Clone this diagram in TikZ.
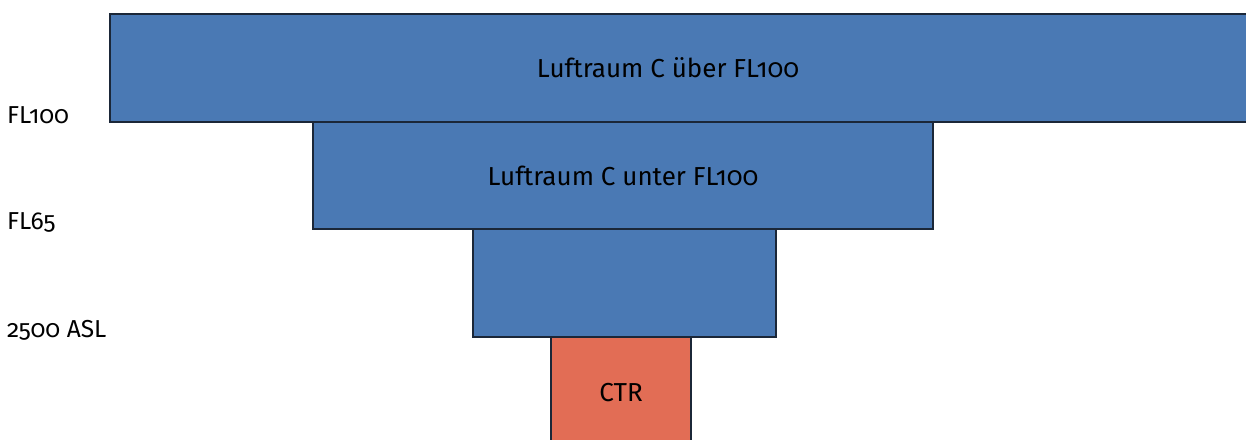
\documentclass[tikz,border=0pt]{standalone}
\usepackage{fontspec}
\setmainfont{Fira Sans}[Numbers=OldStyle]
\definecolor{zoneblue}{HTML}{4A79B4}
\definecolor{ctrred}{HTML}{E26D55}
\definecolor{edge}{HTML}{1B2738}
\begin{document}
\begin{tikzpicture}[x=1pt,y=1pt,
  zone/.style={draw=edge,line width=1.6pt,fill=zoneblue,inner sep=0pt,outer sep=0pt,anchor=north west},
  ctrzone/.style={zone,fill=ctrred},
  lbl/.style={font=\fontsize{26}{30}\selectfont,inner sep=0pt},
  level/.style={font=\fontsize{24.5}{29}\selectfont,inner sep=0pt,anchor=west}]
\useasboundingbox (0,0) rectangle (1246,-439);
\clip (0,0) rectangle (1246,-439);
% stacked airspace sections, top to bottom
\node[zone,minimum width=1160pt,minimum height=108pt] (upper) at (110,-14) {};
\node[zone,minimum width=620pt,minimum height=107pt] (lower) at (313,-122) {};
\node[zone,minimum width=303pt,minimum height=108pt] (mid) at (473,-229) {};
\node[ctrzone,minimum width=140pt,minimum height=120pt] (ctr) at (551,-337) {};
% section names
\node[lbl] (uppertext) at (668,-68) {Luftraum C über FL100};
\node[lbl] at (lower.center) (lowertext) {Luftraum C unter FL100};
\node[lbl] (ctrtext) at (621,-393) {CTR};
% altitude boundaries on the left
\node[level] (fl100) at (7,-115) {FL100};
\node[level] (fl65) at (7,-222) {FL65};
\node[level] (asl) at (7,-330) {2500 ASL};
\end{tikzpicture}
\end{document}
